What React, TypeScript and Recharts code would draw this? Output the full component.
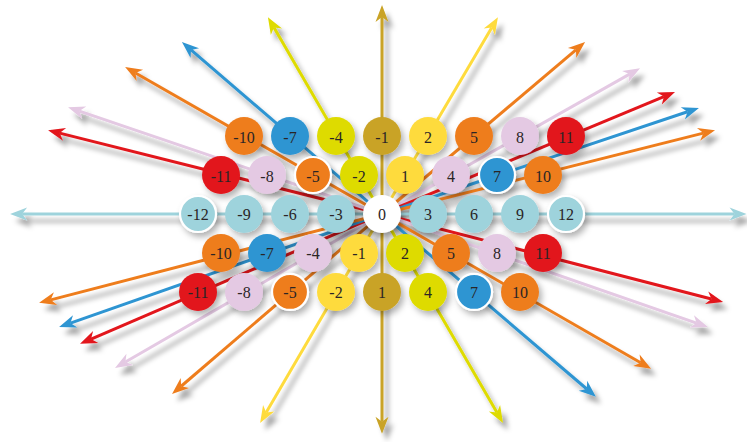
import { ScatterChart, Scatter, XAxis, YAxis } from "recharts";

// lattice rows (row index: -2 top ... 2 bottom), values and column positions
const rowTopValues = [-10, -7, -4, -1, 2, 5, 8, 11];
const rowTopCols = [-6, -4, -2, 0, 2, 4, 6, 8];
const rowUpperValues = [-11, -8, -5, -2, 1, 4, 7, 10];
const rowUpperCols = [-7, -5, -3, -1, 1, 3, 5, 7];
const rowMidValues = [-12, -9, -6, -3, 0, 3, 6, 9, 12];
const rowMidCols = [-8, -6, -4, -2, 0, 2, 4, 6, 8];
const rowLowerValues = [-10, -7, -4, -1, 2, 5, 8, 11];
const rowLowerCols = [-7, -5, -3, -1, 1, 3, 5, 7];
const rowBottomValues = [-11, -8, -5, -2, 1, 4, 7, 10];
const rowBottomCols = [-8, -6, -4, -2, 0, 2, 4, 6];

// nodes drawn with a white ring, as "row:value"
const ringed = ["-1:-5", "-1:7", "0:-12", "0:12", "2:-5", "2:7"];

// rays from the centre: direction in lattice steps and where the arrow tip sits
const rayCol = [0, 1, 2, 3, 4, 5, 7, 1, 7, 5, 3, 2, 1, 0, -1, -2, -3, -4, -5, -7, -1, -7, -5, -3, -2, -1];
const rayRow = [-1, -1, -1, -1, -1, -1, -1, 0, 1, 1, 1, 1, 1, 1, 1, 1, 1, 1, 1, 1, 0, -1, -1, -1, -1, -1];
const tipX = [0, 5.04, 8.83, 11.22, 12.74, 13.78, 14.48, 15.85, 14.83, 14.17, 11.7, 9.3, 5.26, 0, -5.3, -9.13, -11.61, -13.13, -14.04, -14.91, -16.17, -14.52, -13.65, -11.17, -8.7, -4.96];
const tipY = [-5.36, -5.05, -4.41, -3.74, -3.13, -2.72, -2.15, 0, 2.26, 2.9, 3.97, 4.69, 5.36, 5.64, 5.36, 4.62, 3.95, 3.33, 2.9, 2.28, 0, -2.15, -2.74, -3.77, -4.41, -5.05];
const rayTone = ["ochre", "yellow", "orange", "lilac", "red", "blue", "orange", "cyan", "red", "lilac", "orange", "blue", "lime", "ochre", "yellow", "orange", "lilac", "red", "blue", "orange", "cyan", "red", "lilac", "orange", "blue", "lime"];

const COLORS: Record<string, string> = {
  ochre: "#c9a326",
  yellow: "#fedb3d",
  lime: "#dedb00",
  orange: "#ee7d1e",
  lilac: "#e4c9e3",
  red: "#e2151b",
  blue: "#2f95d2",
  cyan: "#9ed3dc",
};

function toneOf(col: number, row: number): string {
  if (col === 0 && row === 0) return "white";
  const dc = row === 0 ? Math.sign(col) : col / Math.abs(row);
  const dr = Math.sign(row);
  const i = rayCol.findIndex((c, k) => c === dc && rayRow[k] === dr);
  return i >= 0 ? COLORS[rayTone[i]] : "#ccc";
}

const rows: [number, number[], number[]][] = [
  [-2, rowTopValues, rowTopCols],
  [-1, rowUpperValues, rowUpperCols],
  [0, rowMidValues, rowMidCols],
  [1, rowLowerValues, rowLowerCols],
  [2, rowBottomValues, rowBottomCols],
];

const nodes = rows.flatMap(([r, vals, cols]) =>
  vals.map((v, i) => ({
    x: cols[i],
    y: r,
    label: String(v),
    fill: v === 0 ? "#ffffff" : toneOf(cols[i], r),
    ring: ringed.includes(`${r}:${v}`),
  }))
);

function Arrow({ points, color }: { points?: { x: number; y: number }[]; color: string }) {
  if (!points || points.length < 2) return <g />;
  const [a, b] = points;
  const ang = Math.atan2(b.y - a.y, b.x - a.x);
  const ux = Math.cos(ang);
  const uy = Math.sin(ang);
  const px = -uy;
  const py = ux;
  const L = 17;
  const W = 6.5;
  const N = 12;
  const bx = b.x - ux * L;
  const by = b.y - uy * L;
  const nx = b.x - ux * N;
  const ny = b.y - uy * N;
  const head = `M${b.x},${b.y} L${bx + px * W},${by + py * W} L${nx},${ny} L${bx - px * W},${by - py * W} Z`;
  return (
    <g filter="url(#arrowShadow)">
      <line x1={a.x} y1={a.y} x2={nx} y2={ny} stroke={color} strokeWidth={3} />
      <path d={head} fill={color} />
    </g>
  );
}

function Node(props: any) {
  const { cx, cy, payload } = props;
  return (
    <g>
      <circle
        cx={cx}
        cy={cy}
        r={payload.ring ? 18 : 19}
        fill={payload.fill}
        stroke={payload.ring ? "#ffffff" : "none"}
        strokeWidth={2.2}
        filter="url(#nodeShadow)"
      />
      <text
        x={cx}
        y={cy + 1}
        textAnchor="middle"
        dominantBaseline="central"
        fontFamily="Liberation Serif, serif"
        fontSize={16}
        fill="#2a2526"
      >
        {payload.label}
      </text>
    </g>
  );
}

export default function App() {
  return (
    <div style={{ position: "absolute", left: 0, top: 0, background: "#fff" }}>
      <ScatterChart width={747} height={442} margin={{ top: 0, right: 0, bottom: 0, left: 0 }}>
        <defs>
          <filter id="arrowShadow" filterUnits="userSpaceOnUse" x={0} y={0} width={747} height={442}>
            <feDropShadow dx={5} dy={7} stdDeviation={2.5} floodColor="#000" floodOpacity={0.35} />
          </filter>
          <filter id="nodeShadow" filterUnits="userSpaceOnUse" x={0} y={0} width={747} height={442}>
            <feDropShadow dx={3} dy={4} stdDeviation={3} floodColor="#000" floodOpacity={0.3} />
          </filter>
        </defs>
        <XAxis type="number" dataKey="x" domain={[-16.61, 15.87]} allowDataOverflow hide />
        <YAxis type="number" dataKey="y" domain={[-5.49, 5.85]} allowDataOverflow reversed hide />
        {tipX.map((tx, i) => {
          const color = COLORS[rayTone[i]];
          return (
            <Scatter
              key={`ray-${i}`}
              data={[
                { x: 0, y: 0 },
                { x: tx, y: tipY[i] },
              ]}
              fill={color}
              line={(p: any) => <Arrow points={p.points} color={color} />}
              lineType="joint"
              shape={() => <g />}
              isAnimationActive={false}
            />
          );
        })}
        <Scatter data={nodes} shape={Node} isAnimationActive={false} />
      </ScatterChart>
    </div>
  );
}
